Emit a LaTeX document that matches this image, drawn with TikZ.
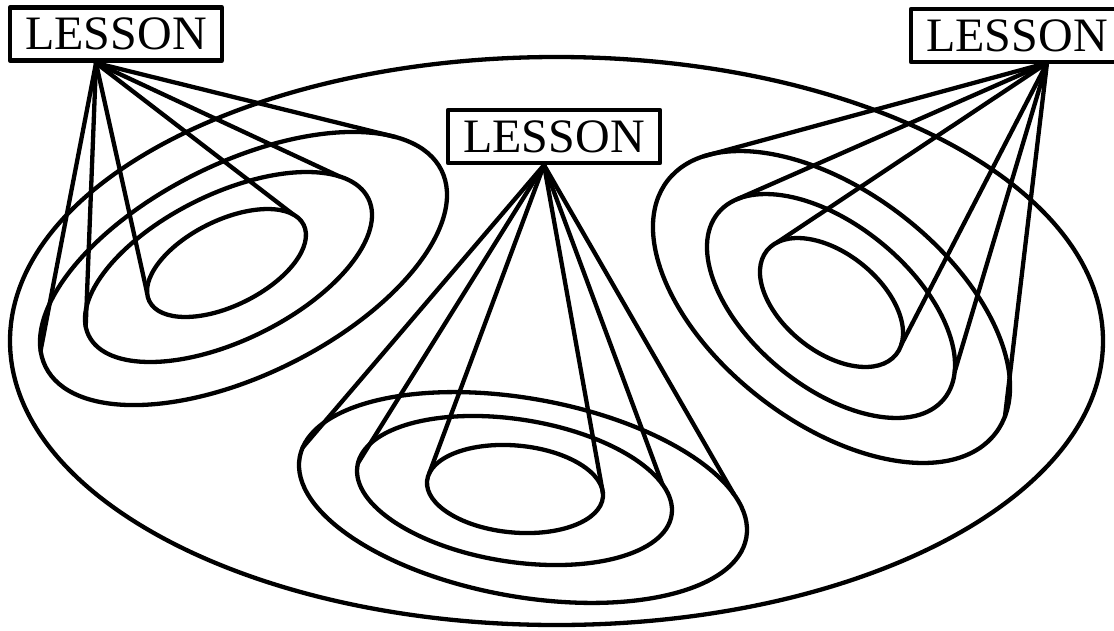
\documentclass[tikz,border=0pt]{standalone}
\usepackage{fontspec}
\setmainfont{Liberation Serif}
\tikzset{
  every path/.style={line join=round, line cap=round},
  loop/.style={draw, line width=4.3pt},
  ray/.style={draw, line width=4.3pt},
  outline/.style={draw, line width=4.3pt},
  lessonbox/.style={draw, fill=white, line width=4.3pt, inner sep=0pt,
    minimum width=212pt, minimum height=53pt,
    font=\fontsize{48}{48}\selectfont},
}
% a loop: #1 cx, #2 cy, #3 a, #4 b, #5 rotation (deg, ccw)
\newcommand\lessonloop[5]{%
  \def\lpcx{#1}\def\lpcy{#2}\def\lpa{#3}\def\lpb{#4}\def\lpth{#5}%
  \draw[loop, rotate around={#5:(#1,#2)}] (#1,#2) ellipse [x radius=#3, y radius=#4];
}
% a ray from apex #1 to the point of the last loop nearest (#3,#4), named #2
\newcommand\lessonray[4]{%
  \pgfmathsetmacro\lcdx{#3-\lpcx}%
  \pgfmathsetmacro\lcdy{\lpcy-#4}%
  \pgfmathsetmacro\lcux{(\lcdx*cos(\lpth)+\lcdy*sin(\lpth))/\lpa}%
  \pgfmathsetmacro\lcuy{(-\lcdx*sin(\lpth)+\lcdy*cos(\lpth))/\lpb}%
  \pgfmathsetmacro\lct{atan2(\lcuy,\lcux)}%
  \pgfmathsetmacro\lcx{\lpcx+cos(\lpth)*\lpa*cos(\lct)-sin(\lpth)*\lpb*sin(\lct)}%
  \pgfmathsetmacro\lcy{\lpcy-(sin(\lpth)*\lpa*cos(\lct)+cos(\lpth)*\lpb*sin(\lct))}%
  \coordinate (#2) at (\lcx,\lcy);
  \draw[ray] (#1) -- (#2);
}
\begin{document}
\begin{tikzpicture}[x=1pt,y=-1pt]
\useasboundingbox (0,0) rectangle (1114,630);
% big ellipse
\draw[outline] (556.5,341) ellipse [x radius=546.5, y radius=284];

% left group
\coordinate (la) at (96,63);
\lessonloop{226.5}{263}{86.1}{42.6}{26.3}
\lessonray{la}{L1a}{295}{213}\lessonray{la}{L1b}{147}{293}
\lessonloop{228.5}{267}{155.7}{73.3}{26.1}
\lessonray{la}{L2a}{343}{173}\lessonray{la}{L2b}{87}{326}
\lessonloop{243.5}{268.5}{221}{105.9}{26.4}
\lessonray{la}{L3a}{398}{135}\lessonray{la}{L3b}{42}{350}

% centre group
\coordinate (ca) at (544,165);
\lessonloop{515}{489}{88.3}{43.5}{-5.2}
\lessonray{ca}{C1a}{428}{473}\lessonray{ca}{C1b}{602}{493}
\lessonloop{514.5}{490.5}{159}{71.2}{-8.9}
\lessonray{ca}{C2a}{358}{463}\lessonray{ca}{C2b}{667}{484}
\lessonloop{523}{497.5}{226.9}{99}{-10.2}
\lessonray{ca}{C3a}{305}{448}\lessonray{ca}{C3b}{746}{494}

% right group
\coordinate (ra) at (1047,63);
\lessonloop{831.5}{302.5}{82.9}{49}{-38.8}
\lessonray{ra}{R1a}{775}{240}\lessonray{ra}{R1b}{902}{345}
\lessonloop{831}{306}{146.3}{80.7}{-39.5}
\lessonray{ra}{R2a}{735}{197}\lessonray{ra}{R2b}{955}{372}
\lessonloop{831.5}{307}{207}{115.5}{-37.6}
\lessonray{ra}{R3a}{700}{152}\lessonray{ra}{R3b}{1008}{418}

% boxes
\node[lessonbox] (lb) at (116,34) {LESSON};
\node[lessonbox] (cb) at (554,136.5) {LESSON};
\node[lessonbox] (rb) at (1017,35.5) {LESSON};
\end{tikzpicture}
\end{document}
